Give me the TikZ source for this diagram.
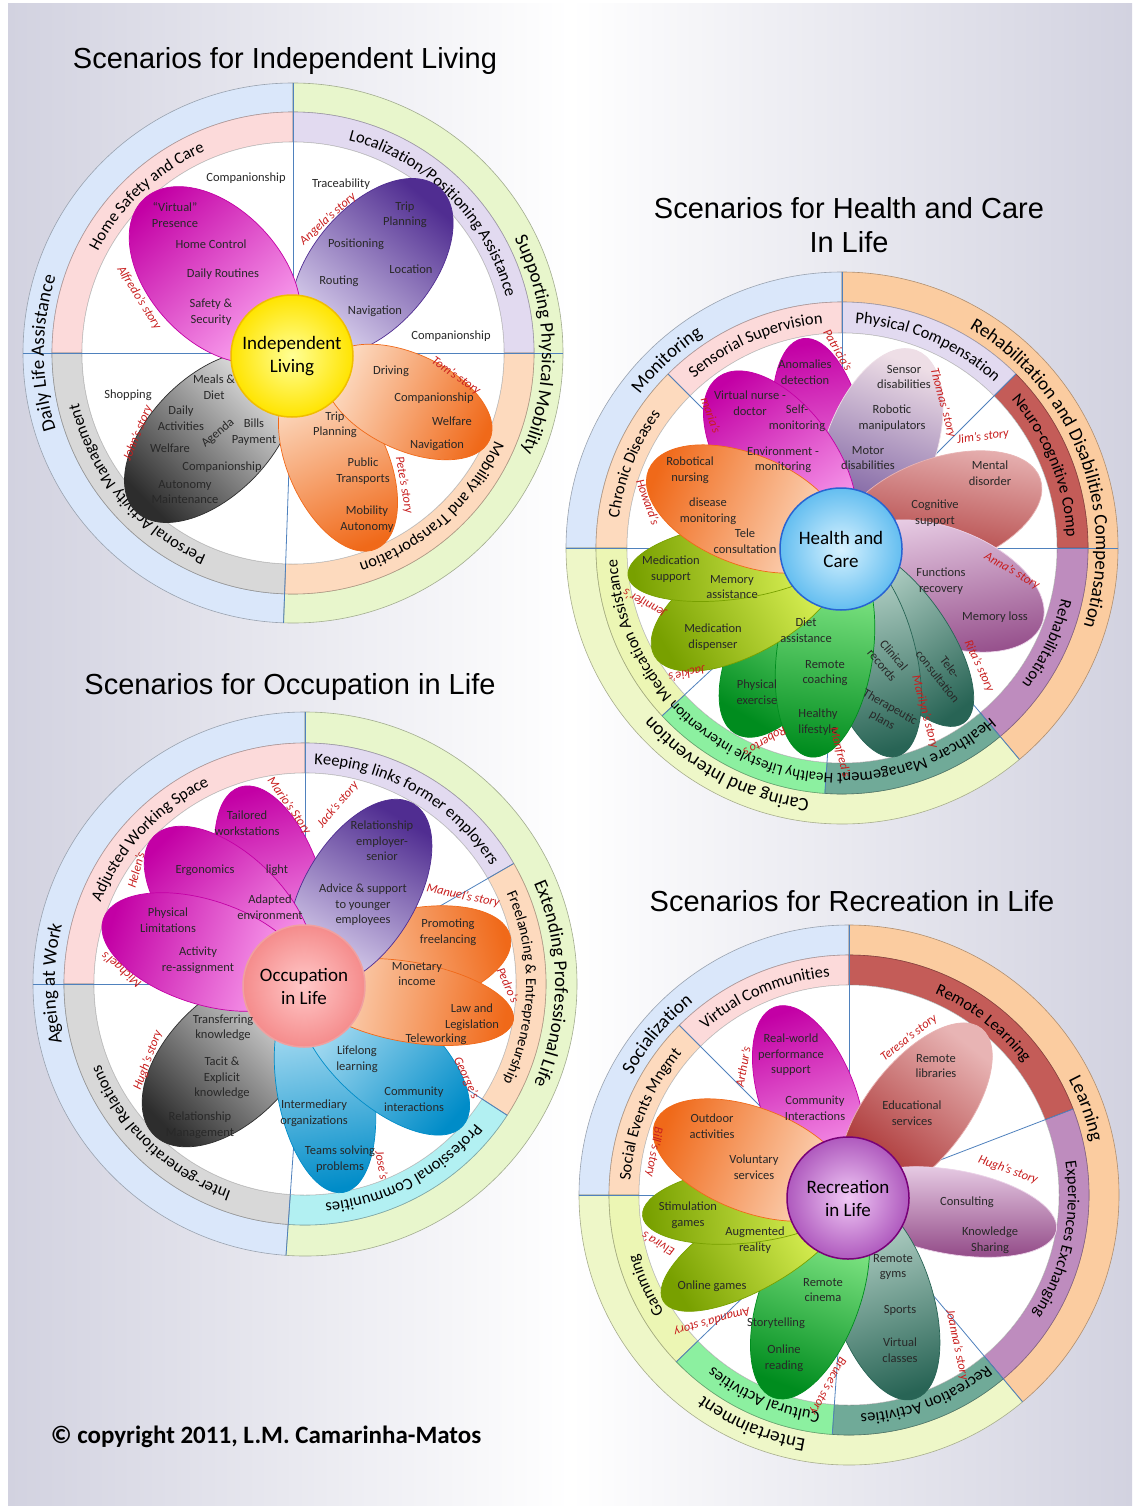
\documentclass[tikz,border=0pt]{standalone}
\usepackage{fontspec}
\setmainfont{Carlito}
\newfontfamily\titlefamily{Liberation Sans}
\usetikzlibrary{calc,decorations.text,positioning}

% colours
\definecolor{bgL}{RGB}{210,210,224}
\definecolor{lineBlue}{RGB}{79,129,189}
\definecolor{ringBlue}{RGB}{218,231,250}
\definecolor{ringGreen}{RGB}{232,246,204}
\definecolor{ringPink}{RGB}{252,218,218}
\definecolor{ringLav}{RGB}{226,218,240}
\definecolor{ringPeach}{RGB}{253,218,190}
\definecolor{ringGray}{RGB}{216,216,216}
\definecolor{ringOrange}{RGB}{251,204,160}
\definecolor{ringYG}{RGB}{238,247,200}
\definecolor{ringRed}{RGB}{196,92,88}
\definecolor{ringMauve}{RGB}{190,140,190}
\definecolor{ringTeal}{RGB}{112,170,152}
\definecolor{ringLGreen}{RGB}{140,240,160}
\definecolor{ringLime}{RGB}{236,246,180}
\definecolor{ringCyan}{RGB}{178,240,242}
\definecolor{mgD}{RGB}{195,0,165}
\definecolor{mgL}{RGB}{255,175,245}
\definecolor{puD}{RGB}{80,45,145}
\definecolor{puL}{RGB}{222,214,240}
\definecolor{grD}{RGB}{45,45,45}
\definecolor{grL}{RGB}{238,238,238}
\definecolor{orD}{RGB}{240,105,25}
\definecolor{orL}{RGB}{253,226,205}
\definecolor{gpD}{RGB}{105,75,150}
\definecolor{gpL}{RGB}{238,222,230}
\definecolor{rdD}{RGB}{165,40,40}
\definecolor{rdL}{RGB}{232,180,180}
\definecolor{mvD}{RGB}{150,80,140}
\definecolor{mvL}{RGB}{235,210,232}
\definecolor{tlD}{RGB}{40,100,85}
\definecolor{tlL}{RGB}{200,225,215}
\definecolor{gnD}{RGB}{0,140,30}
\definecolor{gnL}{RGB}{150,245,150}
\definecolor{ygD}{RGB}{120,160,0}
\definecolor{ygL}{RGB}{235,255,100}
\definecolor{cyD}{RGB}{0,140,200}
\definecolor{cyL}{RGB}{200,235,250}
\definecolor{yelL}{RGB}{255,255,150}
\definecolor{yelD}{RGB}{255,228,0}
\definecolor{yelB}{RGB}{240,190,0}
\definecolor{bluL}{RGB}{215,242,255}
\definecolor{bluD}{RGB}{100,190,240}
\definecolor{bluB}{RGB}{40,100,210}
\definecolor{pnkL}{RGB}{255,200,200}
\definecolor{pnkD}{RGB}{245,140,140}
\definecolor{pnkB}{RGB}{240,160,160}
\definecolor{vioL}{RGB}{240,200,245}
\definecolor{vioD}{RGB}{175,90,190}
\definecolor{vioB}{RGB}{120,0,120}
\definecolor{lblGray}{RGB}{40,40,40}
\definecolor{stRed}{RGB}{200,30,30}

\newcommand{\ringfont}{\fontsize{16.5}{18}\selectfont}
\newcommand{\ringsmall}{\fontsize{15}{17}\selectfont}
\newcommand{\ringbig}{\fontsize{19}{21}\selectfont}

\tikzset{
    seg/.style={fill=#1, draw=#1!70!black, line width=.6pt},
    disk/.style={fill=white, draw=gray!50, line width=.5pt},
    divline/.style={draw=lineBlue, line width=.8pt},
    petal/.style 2 args={draw=#1, line width=.7pt, top color=#1, bottom color=#2},
    hub/.style={circle, minimum size=122pt, inner sep=0pt, align=center, line width=1.5pt, font=\fontsize{19}{23}\selectfont},
    lbl/.style={font=\fontsize{12.5}{15.5}\selectfont, text=lblGray, align=center},
    story/.style={font=\fontsize{12.5}{14}\selectfont\itshape, text=stRed},
    ttl/.style={font=\titlefamily\fontsize{29}{34}\selectfont, align=center},
    copy/.style={font=\fontsize{25}{28}\selectfont\bfseries}
}

% annular sector: centre, from, to, r in, r out, style
\newcommand{\ringseg}[6]{%
    \path[#6] ($(#1)+(#2:#5)$) arc[start angle=#2, end angle=#3, radius=#5]
        -- ($(#1)+(#3:#4)$) arc[start angle=#3, end angle=#2, radius=#4] -- cycle;}
% text on a ring: [font] centre, angle, radius, text
\newcommand{\ringlabel}[5][\ringfont]{%
    \path[decorate, decoration={text along path, text align=center, text={|#1|#5}}]
        ($(#2)+(#3+70:#4)$) arc[start angle=#3+70, end angle=#3-70, radius=#4];}

\begin{document}
\begin{tikzpicture}[x=1pt, y=1pt]
\useasboundingbox (0,0) rectangle (1132,-1506);
\fill[white] (0,0) rectangle (1132,-1506);
\shade[left color=bgL, right color=bgL, middle color=white] (8,-4) rectangle (1132,-1506);

\coordinate (il) at (293,-353);
\coordinate (hc) at (842,-548);
\coordinate (oc) at (305,-984);
\coordinate (rc) at (849,-1195);

% ---------------- Independent Living
\ringseg{il}{90}{268}{241}{270}{seg=ringBlue}
\ringseg{il}{-92}{90}{241}{270}{seg=ringGreen}
\ringseg{il}{90}{180}{211}{241}{seg=ringPink}
\ringseg{il}{0}{90}{211}{241}{seg=ringLav}
\ringseg{il}{-92}{0}{211}{241}{seg=ringPeach}
\ringseg{il}{180}{268}{211}{241}{seg=ringGray}
\path[disk] (il) circle (211);
\draw[divline] (il) -- ++(90:270);
\draw[divline] (il) -- ++(0:270);
\draw[divline] (il) -- ++(180:270);
\draw[divline] (il) -- ++(-92:270);
\ringlabel{il}{133}{220}{Home Safety and Care}
\ringlabel{il}{45}{220}{Localization/Positioning Assistance}
\ringlabel{il}{-48}{220}{Mobility and Transportation}
\ringlabel{il}{-140}{220}{Personal Activity Management}
\ringlabel[\ringbig]{il}{180}{249}{Daily Life Assistance}
\ringlabel[\ringbig]{il}{2}{249}{Supporting Physical Mobility}

\shade[petal={grD}{grL}, shading angle=135] (210,-437) circle[x radius=105, y radius=60, rotate=225];
\shade[petal={puD}{puL}, shading angle=-40] (372,-267) circle[x radius=104, y radius=60, rotate=50];
\shade[petal={mgD}{mgL}, shading angle=43] (215,-275) circle[x radius=104, y radius=66, rotate=133];
\shade[petal={orD}{orL}, shading angle=-156] (338,-463) circle[x radius=94, y radius=50, rotate=-66];
\shade[petal={orD}{orL}, shading angle=-115] (408,-402) circle[x radius=90, y radius=48, rotate=-25];
\node[hub, inner color=yelL, outer color=yelD, draw=yelB] (ilhub) at (292,-356) {Independent\\Living};

\node[lbl] (il1) at (246,-178) {Companionship};
\node[lbl] (il2) at (175,-215) {“Virtual”\\Presence};
\node[lbl] (il3) at (211,-244) {Home Control};
\node[lbl] (il4) at (223,-274) {Daily Routines};
\node[lbl] (il5) at (211,-312) {Safety \&\\Security};
\node[lbl] (il6) at (341,-184) {Traceability};
\node[lbl] (il7) at (405,-215) {Trip\\Planning};
\node[lbl] (il8) at (356,-244) {Positioning};
\node[lbl] (il9) at (411,-269) {Location};
\node[lbl] (il10) at (339,-281) {Routing};
\node[lbl] (il11) at (375,-311) {Navigation};
\node[lbl] (il12) at (451,-336) {Companionship};
\node[lbl] (il13) at (128,-395) {Shopping};
\node[lbl] (il14) at (214,-387) {Meals \&\\Diet};
\node[lbl] (il15) at (181,-418) {Daily\\Activities};
\node[lbl, rotate=40] (il16) at (218,-433) {Agenda};
\node[lbl] (il17) at (254,-432) {Bills\\Payment};
\node[lbl] (il18) at (170,-448) {Welfare};
\node[lbl] (il19) at (222,-467) {Companionship};
\node[lbl] (il20) at (185,-492) {Autonomy\\Maintenance};
\node[lbl] (il21) at (391,-371) {Driving};
\node[lbl] (il22) at (434,-398) {Companionship};
\node[lbl] (il23) at (452,-421) {Welfare};
\node[lbl] (il24) at (437,-445) {Navigation};
\node[lbl] (il25) at (335,-425) {Trip\\Planning};
\node[lbl] (il26) at (363,-471) {Public\\Transports};
\node[lbl] (il27) at (367,-519) {Mobility\\Autonomy};
\node[story, rotate=-58] (ils1) at (139,-298) {Alfredo’s story};
\node[story, rotate=42] (ils2) at (328,-219) {Angela’s story};
\node[story, rotate=68] (ils3) at (138,-433) {John’s story};
\node[story, rotate=-35] (ils4) at (456,-376) {Tom’s story};
\node[story, rotate=-80] (ils5) at (404,-485) {Pete’s story};

% ---------------- Health and Care
\ringseg{hc}{90}{180}{246}{276}{seg=ringBlue}
\ringseg{hc}{-50}{90}{246}{276}{seg=ringOrange}
\ringseg{hc}{180}{310}{246}{276}{seg=ringYG}
\ringseg{hc}{90}{135}{215}{246}{seg=ringPink}
\ringseg{hc}{135}{180}{215}{246}{seg=ringPeach}
\ringseg{hc}{45}{90}{215}{246}{seg=ringLav}
\ringseg{hc}{0}{45}{215}{246}{seg=ringRed}
\ringseg{hc}{-50}{0}{215}{246}{seg=ringMauve}
\ringseg{hc}{-94}{-50}{215}{246}{seg=ringTeal}
\ringseg{hc}{-137}{-94}{215}{246}{seg=ringLGreen}
\ringseg{hc}{-180}{-137}{215}{246}{seg=ringLime}
\path[disk] (hc) circle (215);
\draw[divline] (hc) -- ++(90:276);
\draw[divline] (hc) -- ++(0:276);
\draw[divline] (hc) -- ++(180:276);
\draw[divline] (hc) -- ++(-50:276);
\draw[divline] (hc) -- ++(45:246);
\draw[divline] (hc) -- ++(135:246);
\draw[divline] (hc) -- ++(-137:246);
\draw[divline] (hc) -- ++(-94:246);
\ringlabel[\ringbig]{hc}{133}{254}{Monitoring}
\ringlabel[\ringbig]{hc}{21}{254}{Rehabilitation and Disabilities Compensation}
\ringlabel[\ringbig]{hc}{-118}{254}{Caring and Intervention}
\ringlabel{hc}{113}{225}{Sensorial Supervision}
\ringlabel{hc}{158}{225}{Chronic Diseases}
\ringlabel{hc}{67}{225}{Physical Compensation}
\ringlabel{hc}{22}{225}{Neuro-cognitive Comp}
\ringlabel{hc}{-25}{225}{Rehabilitation}
\ringlabel{hc}{-70}{225}{Healthcare Management}
\ringlabel[\ringsmall]{hc}{-115}{226}{Healthy Lifestyle intervention}
\ringlabel{hc}{-158}{225}{Medication Assistance}

\node[story, rotate=-60] (hcs1) at (838,-350) {Patricia’s};
\shade[petal={mgD}{mgL}, shading angle=10] (821,-444) circle[x radius=107, y radius=46, rotate=100];
\shade[petal={gpL}{gpD}, shading angle=-20] (880,-449) circle[x radius=105, y radius=55, rotate=70];
\shade[petal={mgD}{mgL}, shading angle=36] (780,-462) circle[x radius=105, y radius=56, rotate=126];
\shade[petal={rdL}{rdD}, shading angle=-10] (941,-513) circle[x radius=105, y radius=55, rotate=19];
\shade[petal={mvL}{mvD}, shading angle=10] (943,-586) circle[x radius=106, y radius=58, rotate=-21];
\shade[petal={tlD}{tlL}, shading angle=-145] (903,-636) circle[x radius=106, y radius=44, rotate=-55];
\shade[petal={tlD}{tlL}, shading angle=-165] (869,-652) circle[x radius=108, y radius=46, rotate=-75];
\shade[petal={gnD}{gnL}, shading angle=150] (789,-641) circle[x radius=107, y radius=52, rotate=-120];
\shade[petal={gnD}{gnL}, shading angle=172] (825,-652) circle[x radius=106, y radius=48, rotate=-98];
\shade[petal={ygD}{ygL}, shading angle=120] (748,-602) circle[x radius=108, y radius=50, rotate=-150];
\shade[petal={ygD}{ygL}, shading angle=98] (735,-561) circle[x radius=108, y radius=38, rotate=-172];
\shade[petal={orD}{orL}, shading angle=68] (745,-509) circle[x radius=104, y radius=55, rotate=158];
\node[hub, inner color=bluL, outer color=bluD, draw=bluB] (hchub) at (841,-549) {Health and\\Care};

\node[lbl] (hc1) at (805,-372) {Anomalies\\detection};
\node[lbl] (hc2) at (750,-403) {Virtual nurse -\\doctor};
\node[lbl] (hc3) at (797,-418) {Self-\\monitoring};
\node[lbl] (hc4) at (783,-460) {Environment -\\monitoring};
\node[lbl] (hc5) at (690,-470) {Robotical\\nursing};
\node[lbl] (hc6) at (708,-511) {disease\\monitoring};
\node[lbl] (hc7) at (745,-541) {Tele\\consultation};
\node[lbl] (hc8) at (904,-377) {Sensor\\disabilities};
\node[lbl] (hc9) at (892,-418) {Robotic\\manipulators};
\node[lbl] (hc10) at (868,-458) {Motor\\disabilities};
\node[lbl] (hc11) at (990,-473) {Mental\\disorder};
\node[lbl] (hc12) at (935,-513) {Cognitive\\support};
\node[lbl] (hc13) at (941,-581) {Functions\\recovery};
\node[lbl] (hc14) at (995,-617) {Memory loss};
\node[lbl, rotate=-52] (hc15) at (944,-672) {Tele-\\consultation};
\node[lbl, rotate=-50] (hc16) at (888,-660) {Clinical\\records};
\node[lbl, rotate=-30] (hc17) at (886,-714) {Therapeutic\\plans};
\node[lbl] (hc18) at (818,-722) {Healthy\\lifestyle};
\node[lbl] (hc19) at (825,-673) {Remote\\coaching};
\node[lbl] (hc20) at (806,-630) {Diet\\assistance};
\node[lbl] (hc21) at (757,-692) {Physical\\exercise};
\node[lbl] (hc22) at (713,-637) {Medication\\dispenser};
\node[lbl] (hc23) at (671,-569) {Medication\\support};
\node[lbl] (hc24) at (732,-587) {Memory\\assistance};
\node[story, rotate=-70] (hcs2) at (711,-415) {maria’s};
\node[story, rotate=-70] (hcs3) at (648,-502) {Howard’s};
\node[story, rotate=-75] (hcs4) at (943,-403) {Thomas’ story};
\node[story, rotate=8] (hcs5) at (983,-437) {Jim’s story};
\node[story, rotate=-30] (hcs6) at (1012,-571) {Anna’s story};
\node[story, rotate=-65] (hcs7) at (979,-666) {Rita’s story};
\node[story, rotate=-75] (hcs8) at (925,-712) {Marilyn’s story};
\node[story, rotate=-75] (hcs9) at (840,-752) {Manfred’s};
\node[story, rotate=210] (hcs10) at (765,-742) {Roberto’s};
\node[story, rotate=193] (hcs11) at (687,-674) {Jackie’s};
\node[story, rotate=152] (hcs12) at (645,-603) {Jennifer’s};

% ---------------- Occupation in Life
\ringseg{oc}{90}{266}{241}{272}{seg=ringBlue}
\ringseg{oc}{-94}{90}{241}{272}{seg=ringGreen}
\ringseg{oc}{90}{180}{211}{241}{seg=ringPink}
\ringseg{oc}{30}{90}{211}{241}{seg=ringLav}
\ringseg{oc}{-33}{30}{211}{241}{seg=ringPeach}
\ringseg{oc}{-94}{-33}{211}{241}{seg=ringCyan}
\ringseg{oc}{180}{266}{211}{241}{seg=ringGray}
\path[disk] (oc) circle (211);
\draw[divline] (oc) -- ++(90:272);
\draw[divline] (oc) -- ++(180:272);
\draw[divline] (oc) -- ++(-94:272);
\draw[divline] (oc) -- ++(30:241);
\draw[divline] (oc) -- ++(-33:241);
\ringlabel[\ringbig]{oc}{180}{250}{Ageing at Work}
\ringlabel[\ringbig]{oc}{0}{250}{Extending Professional Life}
\ringlabel{oc}{137}{220}{Adjusted Working Space}
\ringlabel{oc}{60}{220}{Keeping links former employers}
\ringlabel[\ringsmall]{oc}{-1}{221}{Freelancing {\&} Entrepreneurship}
\ringlabel{oc}{-62}{220}{Professional Communities}
\ringlabel{oc}{-134}{220}{Inter-generational Relations}

\shade[petal={grD}{grL}, shading angle=135] (229,-1060) circle[x radius=106, y radius=62, rotate=-135];
\shade[petal={cyD}{cyL}, shading angle=-170] (325,-1088) circle[x radius=106, y radius=48, rotate=-80];
\shade[petal={cyD}{cyL}, shading angle=-132] (384,-1055) circle[x radius=106, y radius=50, rotate=-42];
\shade[petal={orD}{orL}, shading angle=-77] (407,-960) circle[x radius=106, y radius=50, rotate=13];
\shade[petal={orD}{orL}, shading angle=-100] (409,-1002) circle[x radius=106, y radius=40, rotate=-10];
\shade[petal={mgD}{mgL}, shading angle=18] (272,-886) circle[x radius=104, y radius=50, rotate=108];
\shade[petal={puD}{puL}, shading angle=-30] (360,-893) circle[x radius=104, y radius=56, rotate=59];
\shade[petal={mgD}{mgL}, shading angle=45] (229,-911) circle[x radius=106, y radius=56, rotate=135];
\shade[petal={mgD}{mgL}, shading angle=72] (204,-952) circle[x radius=106, y radius=52, rotate=162];
\node[hub, inner color=pnkL, outer color=pnkD, draw=pnkB] (ochub) at (304,-986) {Occupation\\in Life};

\node[lbl] (oc1) at (247,-823) {Tailored\\workstations};
\node[lbl] (oc2) at (277,-870) {light};
\node[lbl] (oc3) at (205,-870) {Ergonomics};
\node[lbl] (oc4) at (270,-907) {Adapted\\environment};
\node[lbl] (oc5) at (168,-920) {Physical\\Limitations};
\node[lbl] (oc6) at (198,-960) {Activity\\re-assignment};
\node[lbl] (oc7) at (382,-841) {Relationship\\employer-\\senior};
\node[lbl] (oc8) at (363,-905) {Advice \& support\\to younger\\employees};
\node[lbl] (oc9) at (448,-932) {Promoting\\freelancing};
\node[lbl] (oc10) at (417,-974) {Monetary\\income};
\node[lbl] (oc11) at (472,-1017) {Law and\\Legislation};
\node[lbl] (oc12) at (436,-1039) {Teleworking};
\node[lbl] (oc13) at (357,-1059) {Lifelong\\learning};
\node[lbl] (oc14) at (414,-1099) {Community\\interactions};
\node[lbl] (oc15) at (314,-1113) {Intermediary\\organizations};
\node[lbl] (oc16) at (340,-1159) {Teams solving\\problems};
\node[lbl] (oc17) at (223,-1028) {Transferring\\knowledge};
\node[lbl] (oc18) at (222,-1078) {Tacit \&\\Explicit\\knowledge};
\node[lbl] (oc19) at (200,-1125) {Relationship\\Management};
\node[story, rotate=-55] (ocs1) at (289,-806) {Mario’s Story};
\node[story, rotate=75] (ocs2) at (136,-870) {Helen’s};
\node[story, rotate=140] (ocs3) at (121,-970) {Michael’s};
\node[story, rotate=50] (ocs4) at (338,-805) {Jack’s story};
\node[story, rotate=-12] (ocs5) at (463,-896) {Manuel’s story};
\node[story, rotate=-65] (ocs6) at (508,-985) {Pedro’s};
\node[story, rotate=-65] (ocs7) at (466,-1078) {George’s};
\node[story, rotate=-80] (ocs8) at (382,-1165) {Jose’s};
\node[story, rotate=70] (ocs9) at (148,-1060) {Hugh’s story};

% ---------------- Recreation in Life
\ringseg{rc}{90}{180}{240}{270}{seg=ringBlue}
\ringseg{rc}{-50}{90}{240}{270}{seg=ringOrange}
\ringseg{rc}{180}{310}{240}{270}{seg=ringYG}
\ringseg{rc}{90}{135}{210}{240}{seg=ringPink}
\ringseg{rc}{135}{180}{210}{240}{seg=ringPeach}
\ringseg{rc}{21}{90}{210}{240}{seg=ringRed}
\ringseg{rc}{-50}{21}{210}{240}{seg=ringMauve}
\ringseg{rc}{-94}{-50}{210}{240}{seg=ringTeal}
\ringseg{rc}{-136}{-94}{210}{240}{seg=ringLGreen}
\ringseg{rc}{-180}{-136}{210}{240}{seg=ringLime}
\path[disk] (rc) circle (210);
\draw[divline] (rc) -- ++(90:270);
\draw[divline] (rc) -- ++(180:270);
\draw[divline] (rc) -- ++(-50:270);
\draw[divline] (rc) -- ++(135:240);
\draw[divline] (rc) -- ++(21:240);
\draw[divline] (rc) -- ++(-136:240);
\draw[divline] (rc) -- ++(-94:240);
\ringlabel[\ringbig]{rc}{140}{248}{Socialization}
\ringlabel[\ringbig]{rc}{20}{248}{Learning}
\ringlabel[\ringbig]{rc}{-113}{248}{Entertainment}
\ringlabel{rc}{113}{219}{Virtual Communities}
\ringlabel{rc}{158}{219}{Social Events Mngmt}
\ringlabel{rc}{52}{219}{Remote Learning}
\ringlabel{rc}{-12}{219}{Experiences Exchanging}
\ringlabel{rc}{-69}{219}{Recreation Activities}
\ringlabel{rc}{-113}{219}{Cultural Activities}
\ringlabel{rc}{-156}{219}{Gamming}

\shade[petal={mgD}{mgL}, shading angle=20] (809,-1101) circle[x radius=100, y radius=48, rotate=110];
\shade[petal={rdL}{rdD}, shading angle=-38] (916,-1112) circle[x radius=106, y radius=50, rotate=52];
\shade[petal={mvL}{mvD}, shading angle=0] (952,-1212) circle[x radius=106, y radius=42, rotate=-10];
\shade[petal={tlD}{tlL}, shading angle=-162] (882,-1297) circle[x radius=107, y radius=50, rotate=-72];
\shade[petal={gnD}{gnL}, shading angle=160] (810,-1297) circle[x radius=107, y radius=50, rotate=-110];
\shade[petal={ygD}{ygL}, shading angle=120] (755,-1248) circle[x radius=106, y radius=40, rotate=-150];
\shade[petal={ygD}{ygL}, shading angle=96] (746,-1205) circle[x radius=104, y radius=38, rotate=-174];
\shade[petal={orD}{orL}, shading angle=69] (752,-1160) circle[x radius=104, y radius=52, rotate=159];
\node[hub, inner color=vioL, outer color=vioD, draw=vioB] (rchub) at (848,-1198) {Recreation\\in Life};

\node[lbl] (rc1) at (791,-1055) {Real-world\\performance\\support};
\node[lbl] (rc2) at (815,-1108) {Community\\Interactions};
\node[lbl] (rc3) at (936,-1066) {Remote\\libraries};
\node[lbl] (rc4) at (912,-1113) {Educational\\services};
\node[lbl] (rc5) at (712,-1126) {Outdoor\\activities};
\node[lbl] (rc6) at (754,-1167) {Voluntary\\services};
\node[lbl] (rc7) at (688,-1215) {Stimulation\\games};
\node[lbl] (rc8) at (755,-1240) {Augmented\\reality};
\node[lbl] (rc9) at (712,-1286) {Online games};
\node[lbl] (rc10) at (823,-1290) {Remote\\cinema};
\node[lbl] (rc11) at (776,-1323) {Storytelling};
\node[lbl] (rc12) at (784,-1358) {Online\\reading};
\node[lbl] (rc13) at (893,-1267) {Remote\\gyms};
\node[lbl] (rc14) at (900,-1310) {Sports};
\node[lbl] (rc15) at (900,-1350) {Virtual\\classes};
\node[lbl] (rc16) at (967,-1202) {Consulting};
\node[lbl] (rc17) at (990,-1240) {Knowledge\\Sharing};
\node[story, rotate=80] (rcs1) at (743,-1067) {Arthur’s};
\node[story, rotate=38] (rcs2) at (909,-1038) {Teresa’s story};
\node[story, rotate=-100] (rcs3) at (654,-1152) {Bill’s story};
\node[story, rotate=150] (rcs4) at (658,-1244) {Elvira’s};
\node[story, rotate=196] (rcs5) at (712,-1321) {Amanda’s story};
\node[story, rotate=-118] (rcs6) at (828,-1386) {Bruce’s story};
\node[story, rotate=-78] (rcs7) at (957,-1345) {Joanna’s story};
\node[story, rotate=-20] (rcs8) at (1008,-1170) {Hugh’s story};

% ---------------- titles
\node[ttl] (t1) at (285,-61) {Scenarios for Independent Living};
\node[ttl] (t2) at (849,-225) {Scenarios for Health and Care\\In Life};
\node[ttl] (t3) at (290,-687) {Scenarios for Occupation in Life};
\node[ttl] (t4) at (852,-901) {Scenarios for Recreation in Life};
\node[copy] (cr) at (266,-1437) {© copyright 2011, L.M. Camarinha-Matos};
\end{tikzpicture}
\end{document}
